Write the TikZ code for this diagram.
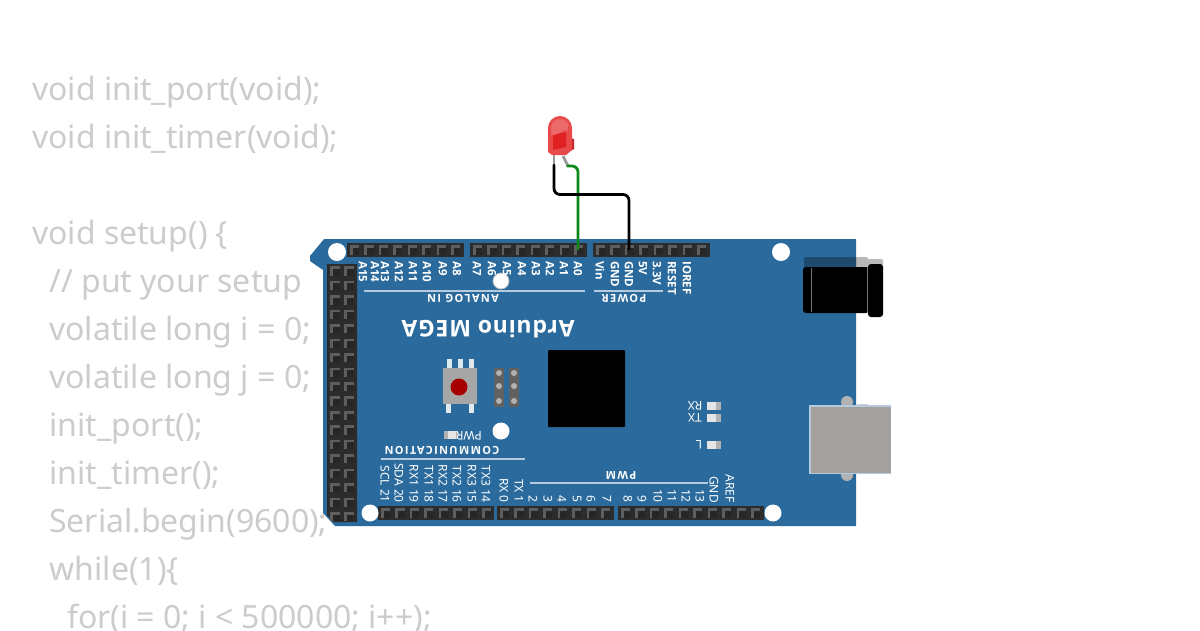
\documentclass[tikz,border=0pt]{standalone}
\usepackage{fontspec}
\setmainfont{Noto Sans}
\newfontfamily\silk{Noto Sans}
\newfontfamily\silkb{Open Sans}
\newfontfamily\silkgroup[LetterSpace=12]{Open Sans}
\newfontfamily\silktitle[LetterSpace=3.5]{Open Sans}
\usetikzlibrary{calc}
\definecolor{codegrey}{HTML}{CCCCCC}
\definecolor{pcb}{HTML}{2A6A9C}
\definecolor{silkline}{HTML}{B5CBDD}
\definecolor{hdr}{HTML}{2C2C2C}
\definecolor{pinlight}{HTML}{5E5E5E}
\definecolor{pindark}{HTML}{262626}
\definecolor{wiregreen}{HTML}{0E8A1C}
\definecolor{usbgrey}{HTML}{A3A19E}
\definecolor{ledred}{HTML}{E84A4A}
\tikzset{
  codeline/.style={anchor=base west,inner sep=0pt,text=codegrey,font=\fontsize{32}{32}\selectfont},
  pinlabel/.style={rotate=-90,inner sep=0pt,text=white,font=\silk\fontsize{12}{12}\selectfont},
  toplabel/.style={pinlabel,anchor=west,font=\silkb\bfseries\fontsize{11.5}{12}\selectfont},
  botlabel/.style={pinlabel,anchor=east},
  flipped/.style={rotate=180,inner sep=0pt,text=white,font=\silk\fontsize{12}{12}\selectfont},
  flippedbold/.style={flipped,font=\silkgroup\bfseries\fontsize{11}{12}\selectfont},
  silkrule/.style={draw=silkline,line width=1.2pt},
  hole/.style={circle,fill=white,inner sep=0pt,minimum size=#1},
  wire/.style={line width=2.8pt,rounded corners=6pt,line cap=round},
  lead/.style={draw=gray!80,line width=2.8pt},
}
\newcommand{\pinsq}[2]{%
  \fill[pinlight] (#1-4.6,#2-4.6) rectangle (#1+4.6,#2+4.6);
  \fill[pindark] (#1-2,#2-2) rectangle (#1+4.6,#2+4.6);
}
\newcommand{\hdrrow}[4]{% x start, y centre, n, width
  \fill[hdr] (#1,#2-7) rectangle (#1+#4,#2+7);
  \foreach \ii in {1,...,#3}{
    \pgfmathsetmacro{\px}{#1+7.5+14.45*(\ii-1)}
    \pinsq{\px}{#2}
  }
}
\begin{document}
\begin{tikzpicture}[x=1pt,y=-1pt]
\useasboundingbox (0,0) rectangle (1200,630);
\fill[white] (0,0) rectangle (1200,630);
% code
\node[codeline] (c1) at (32,100) {void init\_port(void);};
\node[codeline] (c2) at (32,148) {void init\_timer(void);};
\node[codeline] (c3) at (32,244) {void setup() \{};
\node[codeline] (c4) at (49,292) {// put your setup};
\node[codeline] (c5) at (49,340) {volatile long i = 0;};
\node[codeline] (c6) at (49,388) {volatile long j = 0;};
\node[codeline] (c7) at (49.5,436) {init\_port();};
\node[codeline] (c8) at (49.5,484) {init\_timer();};
\node[codeline] (c9) at (49,532) {Serial.begin(9600);};
\node[codeline] (c10) at (49.5,580) {while(1)\{};
\node[codeline] (c11) at (67,628) {for(i = 0; i < 500000; i++);};
% jack shadow behind board edge
\fill[black!28,rounded corners=2pt] (850,257) rectangle (868,270);
\fill[black!27,rounded corners=2pt] (866,259) rectangle (883,270);
% usb bits beyond the board
\fill[black!20] (857,404) rectangle (868,410);
% board
\fill[pcb] (324,239) -- (856,239) -- (856,526) -- (335,526) -- (323,513) -- (323,270) -- (310,261) -- (310,256) -- cycle;
% headers
\hdrrow{347}{250}{8}{117}
\hdrrow{470}{250}{8}{117}
\hdrrow{593}{250}{8}{117}
\hdrrow{378}{513}{8}{116}
\hdrrow{497}{513}{8}{117}
\hdrrow{618}{513}{10}{146}
\fill[hdr] (327,264) -- (357,264) -- (357,522) -- (334,522) -- (327,515) -- cycle;
\foreach \jj in {1,...,18}{
  \pgfmathsetmacro{\py}{271+14.45*(\jj-1)}
  \pinsq{335}{\py}
  \pinsq{349}{\py}
}
% holes
\node[hole=18pt] (h1) at (337,252) {};
\node[hole=18pt] (h2) at (781,252) {};
\node[hole=16pt,draw=black!25,line width=.8pt] (h3) at (501,281) {};
\node[hole=17pt] (h4) at (501,431) {};
\node[hole=17pt] (h5) at (370,513) {};
\node[hole=17pt] (h6) at (773,513) {};
% top labels
\foreach \x/\t [count=\n] in {363/A15,375/A14,385/A13,399/A12,413/A11,427/A10,443/A9,457/A8,477/A7,492/A6,507/A5,522/A4,536/A3,550/A2,564/A1,578/A0,600/Vin,615/GND,629/GND,643/5V,657/3.3V,672/RESET,687/IOREF}
  \node[toplabel] (top\n) at (\x,261) {\t};
% bottom labels
\foreach \x/\t [count=\n] in {385/SCL 21,399/SDA 20,414/RX1 19,429/TX1 18,443/RX2 17,457/TX2 16,472/RX3 15,486/TX3 14,504/RX  0,519/TX  1,533/2,548/3,562/4,577/5,591/6,607/7,628/8,642/9,658/10,672/11,686/12,700/13,714/GND,730/AREF}
  \node[botlabel] (bot\n) at (\x,503) {\t};
% silk rules & group labels
\draw[silkrule] (364,291) -- (585,291);
\draw[silkrule] (594,291) -- (663,291);
\draw[silkrule] (381,459) -- (525,459);
\draw[silkrule] (530,483) -- (708,483);
\node[flippedbold] (analog) at (463,298) {ANALOG IN};
\node[flippedbold] (power) at (624,298) {POWER};
\node[flippedbold] (comm) at (442,450) {COMMUNICATION};
\node[flippedbold] (pwm) at (621,475) {PWM};
\node[rotate=180,inner sep=0pt,text=white,font=\silktitle\bfseries\fontsize{23}{26}\selectfont] (title) at (488,329) {Arduino MEGA};
% chip
\fill[black,rounded corners=1pt] (548,350) rectangle (625,427);
% reset button
\fill[white!85!pcb] (447,359) rectangle (452,369);
\fill[white!85!pcb] (458,359) rectangle (463,369);
\fill[white!85!pcb] (468.5,359) rectangle (474,369);
\fill[white!85!pcb] (446,403) rectangle (451,413);
\fill[white!85!pcb] (469,403) rectangle (474,413);
\fill[black!35] (443,368) rectangle (477,404);
\fill[red!65!black] (459,387) circle (8.5pt);
% ICSP
\fill[black!62] (494,368) rectangle (504,407);
\fill[black!62] (509,368) rectangle (519,407);
\foreach \yy in {373,386,401}{
  \fill[black!30] (499,\yy) circle (3pt);
  \fill[black!30] (514,\yy) circle (3pt);
}
% small LEDs
\fill[black!30] (444,431) rectangle (458,439);
\fill[white!90!black] (448,431) rectangle (456,439);
\foreach \yy in {402,414,441}{
  \fill[black!30] (707,\yy) rectangle (721,\yy+7.5);
  \fill[white!90!black] (707,\yy) rectangle (716,\yy+7.5);
}
\node[flipped] (lpwr) at (469,436) {PWR};
\node[flipped] (lrx) at (695,406) {RX};
\node[flipped] (ltx) at (695,418) {TX};
\node[flipped] (ll) at (699,445) {L};
% power jack
\fill[pcb!70!black,rounded corners=2pt] (804,257) rectangle (856,270);
\fill[black,rounded corners=3pt] (803,267) rectangle (869,313);
\fill[black,rounded corners=3pt] (868,264) rectangle (883,317);
\draw[black!55,line width=.5pt] (811,268) -- (811,312);
\draw[black!55,line width=.5pt] (867.5,268) -- (867.5,312);
% usb
\fill[black!30] (847,402) circle (6pt);
\fill[black!30] (847,475) circle (6pt);
\fill[silkline] (808.5,405) rectangle (891,474);
\fill[usbgrey] (810.5,406.5) rectangle (891,473);
% LED
\draw[lead] (554,152) -- (554,166);
\draw[lead] (563,156) -- (568,166);
\fill[red!72!black!85] (566,137) -- (574,139) -- (574,149) -- (566,153) -- cycle;
\fill[ledred] (548,152) -- (548,128) arc[start angle=180,end angle=0,radius=12pt] -- (572,150) -- (566,155) -- (552,155) -- cycle;
\fill[red!85!black,opacity=.55] (553,136) -- (566,130) -- (566,147) -- (553,150) -- cycle;
\fill[white,opacity=.18] (551,128) arc[start angle=180,end angle=20,radius=9pt] -- (567,132) -- (551,135) -- cycle;
% named wire ends
\coordinate (ledK) at (554,165);
\coordinate (ledA) at (567.5,166);
\coordinate (pinAzero) at (578,249);
\coordinate (pinGND) at (629,249);
\draw[wire,wiregreen] (ledA) -- (ledA -| pinAzero) -- (pinAzero);
\draw[wire,black] (ledK) -- (554,194.5) -- (629,194.5) -- (pinGND);
\end{tikzpicture}
\end{document}
